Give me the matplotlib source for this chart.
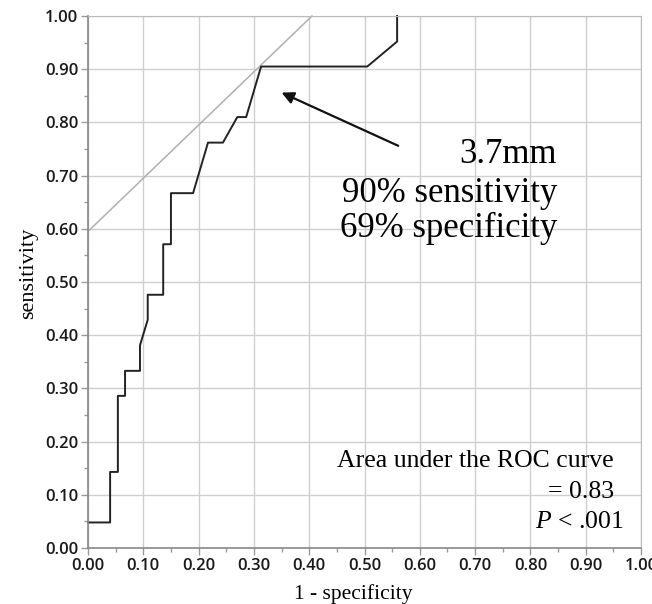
import matplotlib
matplotlib.use("Agg")
import matplotlib.pyplot as plt
import numpy as np

# ROC curve points (1 - specificity, sensitivity)
fpr = [0.0, 0.040, 0.040, 0.054, 0.054, 0.067, 0.067, 0.094, 0.094, 0.108, 0.108,
       0.136, 0.136, 0.150, 0.150, 0.190, 0.217, 0.244, 0.270, 0.286, 0.313,
       0.505, 0.559, 0.559]
tpr = [0.048, 0.048, 0.143, 0.143, 0.286, 0.286, 0.333, 0.333, 0.381, 0.429, 0.476,
       0.476, 0.571, 0.571, 0.667, 0.667, 0.762, 0.762, 0.810, 0.810, 0.905,
       0.905, 0.952, 1.000]

# tangent line through optimal cut-off
tan_x = [0.0, 0.405]
tan_y = [0.595, 1.0]

# arrow from label to cut-off point
arrow_tail = (0.561, 0.756)
arrow_head = (0.350, 0.856)

ticks = [0.0, 0.1, 0.2, 0.3, 0.4, 0.5, 0.6, 0.7, 0.8, 0.9, 1.0]
tick_labels = ["%.2f" % t for t in ticks]

serif = ["Liberation Serif", "DejaVu Serif"]
plt.rcParams["mathtext.fontset"] = "custom"
plt.rcParams["mathtext.it"] = "Liberation Serif:italic"
plt.rcParams["mathtext.rm"] = "Liberation Serif"

fig = plt.figure(figsize=(6.52, 6.04), dpi=100)
ax = fig.add_axes([88 / 652, 56 / 604, 553 / 652, 532 / 604])

ax.set_xlim(0, 1)
ax.set_ylim(0, 1)
ax.set_xticks(ticks)
ax.set_yticks(ticks)
ax.set_xticks(np.arange(0.05, 1.0, 0.1), minor=True)
ax.set_yticks(np.arange(0.05, 1.0, 0.1), minor=True)
tick_font = dict(fontfamily="Open Sans", fontweight="semibold", fontsize=12, color="#1a1a1a")
ax.set_xticklabels(tick_labels, **tick_font)
ax.set_yticklabels(tick_labels, **tick_font)
ax.tick_params(which="major", length=5, width=1, color="#999999", pad=2)
ax.tick_params(which="minor", length=3, width=1, color="#999999")
ax.grid(True, which="major", color="#cfcfcf", linewidth=1.0)
ax.set_axisbelow(True)
for side in ["top", "right"]:
    ax.spines[side].set_color("#bbbbbb")
for side in ["left", "bottom"]:
    ax.spines[side].set_color("#888888")
    ax.spines[side].set_linewidth(1.2)

ax.plot(tan_x, tan_y, color="#b0b0b0", linewidth=1.1, clip_on=False)
ax.plot(fpr, tpr, color="#222222", linewidth=1.4, clip_on=False)

ax.annotate("", xy=arrow_head, xytext=arrow_tail,
            arrowprops=dict(arrowstyle="-|>", color="#111111", lw=1.6,
                            mutation_scale=18, shrinkA=0, shrinkB=0))

ax.set_xlabel("1 - specificity", fontfamily=serif, fontsize=15.5)
ax.set_ylabel("sensitivity", fontfamily=serif, fontsize=16)
ax.xaxis.set_label_coords((353 - 88) / 553, -36 / 532)
ax.yaxis.set_label_coords(-50 / 553, (548 - 273) / 532)

ax.text(0.848, 0.724, "3.7mm", fontfamily=serif, fontsize=25, ha="right", va="baseline")
ax.text(0.848, 0.650, "90% sensitivity", fontfamily=serif, fontsize=25, ha="right", va="baseline")
ax.text(0.848, 0.585, "69% specificity", fontfamily=serif, fontsize=25, ha="right", va="baseline")

ax.text(0.951, 0.152, "Area under the ROC curve", fontfamily=serif, fontsize=18.5, ha="right", va="baseline")
ax.text(0.951, 0.094, "= 0.83", fontfamily=serif, fontsize=18.5, ha="right", va="baseline")
ax.text(0.969, 0.038, "$P$ < .001", fontfamily=serif, fontsize=18.5, ha="right", va="baseline")

fig.savefig("out.png", dpi=100)
